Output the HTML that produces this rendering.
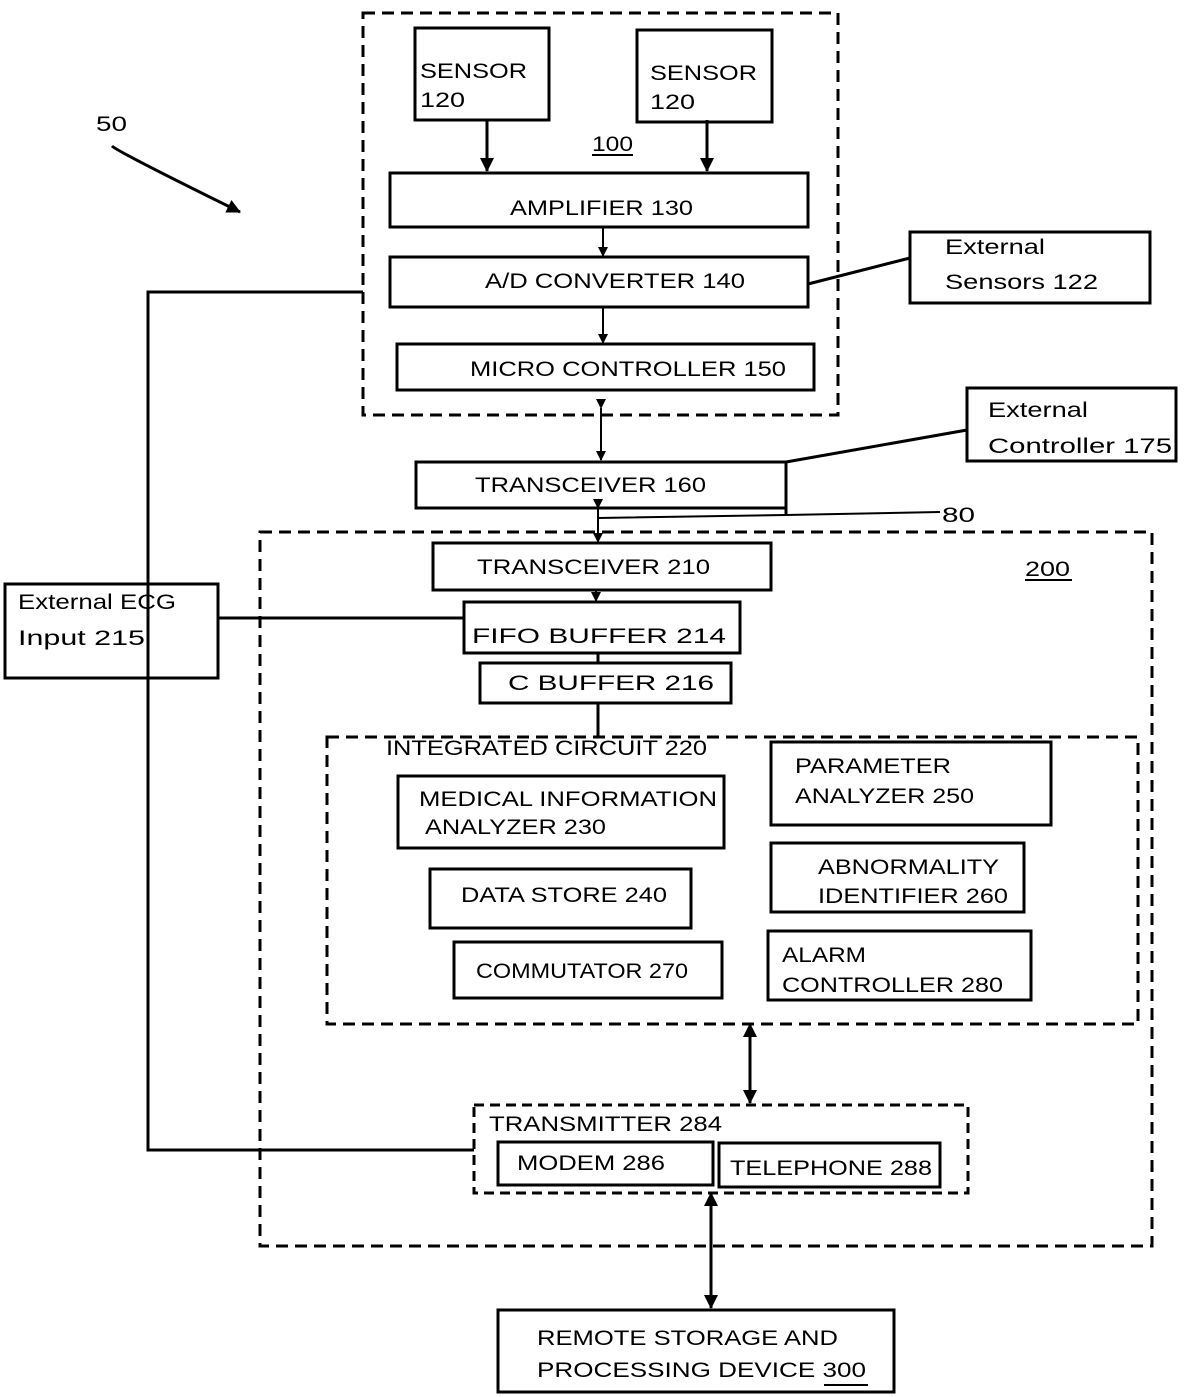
<!DOCTYPE html>
<html><head><style>
html,body{margin:0;padding:0;background:#fff;}
svg{display:block;}
text{font-family:"Liberation Sans",sans-serif;font-size:21px;fill:#000;}
</style></head><body>
<svg width="1189" height="1397" viewBox="0 0 1189 1397" xmlns="http://www.w3.org/2000/svg">
<defs>
<marker id="a" markerWidth="10" markerHeight="10" refX="9" refY="5" orient="auto" markerUnits="userSpaceOnUse"><path d="M0,0 L10,5 L0,10 z" fill="#000"/></marker>
<marker id="b" markerWidth="14" markerHeight="14" refX="13" refY="7" orient="auto-start-reverse" markerUnits="userSpaceOnUse"><path d="M0,0 L14,7 L0,14 z" fill="#000"/></marker>
</defs>
<g fill="none" stroke="#000" stroke-width="3">
<rect x="363" y="13" width="475" height="402" stroke-dasharray="12,7"/>
<rect x="260" y="532" width="892" height="714" stroke-dasharray="12,7"/>
<rect x="327" y="737" width="811" height="287" stroke-dasharray="12,7"/>
<rect x="474" y="1105" width="494" height="88" stroke-dasharray="10,6"/>
<rect x="415" y="28" width="134" height="92"/>
<rect x="637" y="30" width="135" height="92"/>
<rect x="390" y="173" width="418" height="54"/>
<rect x="390" y="257" width="418" height="50"/>
<rect x="397" y="344" width="417" height="46"/>
<rect x="910" y="232" width="240" height="71"/>
<rect x="967" y="388" width="209" height="73"/>
<rect x="416" y="462" width="370" height="46"/>
<rect x="433" y="543" width="338" height="47"/>
<rect x="464" y="602" width="276" height="51"/>
<rect x="480" y="663" width="251" height="40"/>
<rect x="5" y="584" width="213" height="94"/>
<rect x="398" y="776" width="326" height="72"/>
<rect x="771" y="742" width="280" height="83"/>
<rect x="430" y="869" width="261" height="59"/>
<rect x="771" y="843" width="253" height="69"/>
<rect x="454" y="942" width="268" height="56"/>
<rect x="768" y="931" width="263" height="69"/>
<rect x="498" y="1142" width="215" height="43"/>
<rect x="719" y="1143" width="221" height="44"/>
<rect x="498" y="1310" width="396" height="82"/>
<line x1="487" y1="120" x2="487" y2="171" marker-end="url(#b)"/>
<line x1="707" y1="120" x2="707" y2="171" marker-end="url(#b)"/>
<line x1="603" y1="227" x2="603" y2="256" stroke-width="2" marker-end="url(#a)"/>
<line x1="603" y1="307" x2="603" y2="343" stroke-width="2" marker-end="url(#a)"/>
<line x1="808" y1="284" x2="910" y2="258"/>
<line x1="601" y1="408" x2="601" y2="460" stroke-width="2" marker-start="url(#a)" marker-end="url(#a)"/>
<line x1="786" y1="462" x2="967" y2="430"/>
<line x1="786" y1="462" x2="786" y2="515"/>
<polyline points="598,518 786,515 940,512" stroke-width="2"/>
<line x1="598" y1="508" x2="598" y2="542" stroke-width="2" marker-start="url(#a)" marker-end="url(#a)"/>
<line x1="596" y1="590" x2="596" y2="601" stroke-width="2" marker-end="url(#a)"/>
<line x1="598" y1="653" x2="598" y2="663"/>
<line x1="598" y1="703" x2="598" y2="737"/>
<line x1="218" y1="618" x2="464" y2="618"/>
<polyline points="363,292 148,292 148,1150 474,1150"/>
<line x1="750" y1="1024" x2="750" y2="1103" marker-start="url(#b)" marker-end="url(#b)"/>
<line x1="711" y1="1193" x2="711" y2="1308" marker-start="url(#b)" marker-end="url(#b)"/>
<path d="M112,146 Q118,152 240,212" marker-end="url(#b)"/>
<line x1="592" y1="155" x2="633" y2="155" stroke-width="2"/>
<line x1="1025" y1="580" x2="1072" y2="580" stroke-width="2"/>
<line x1="824" y1="1385" x2="868" y2="1385" stroke-width="2"/>
</g>
<g lengthAdjust="spacingAndGlyphs">
<text x="96" y="131" textLength="31" lengthAdjust="spacingAndGlyphs">50</text>
<text x="420" y="78" textLength="107" lengthAdjust="spacingAndGlyphs">SENSOR</text><text x="420" y="107" textLength="45" lengthAdjust="spacingAndGlyphs">120</text>
<text x="650" y="80" textLength="107" lengthAdjust="spacingAndGlyphs">SENSOR</text><text x="650" y="109" textLength="45" lengthAdjust="spacingAndGlyphs">120</text>
<text x="592" y="151" textLength="41" lengthAdjust="spacingAndGlyphs">100</text>
<text x="510" y="215" textLength="183" lengthAdjust="spacingAndGlyphs">AMPLIFIER 130</text>
<text x="485" y="288" textLength="260" lengthAdjust="spacingAndGlyphs">A/D CONVERTER 140</text>
<text x="470" y="376" textLength="316" lengthAdjust="spacingAndGlyphs">MICRO CONTROLLER 150</text>
<text x="945" y="254" font-size="23" textLength="100" lengthAdjust="spacingAndGlyphs">External</text><text x="945" y="289" font-size="23" textLength="153" lengthAdjust="spacingAndGlyphs">Sensors 122</text>
<text x="988" y="417" font-size="23" textLength="100" lengthAdjust="spacingAndGlyphs">External</text><text x="988" y="453" font-size="23" textLength="184" lengthAdjust="spacingAndGlyphs">Controller 175</text>
<text x="475" y="492" textLength="231" lengthAdjust="spacingAndGlyphs">TRANSCEIVER 160</text>
<text x="942" y="522" textLength="33" lengthAdjust="spacingAndGlyphs">80</text>
<text x="477" y="574" textLength="233" lengthAdjust="spacingAndGlyphs">TRANSCEIVER 210</text>
<text x="1025" y="576" textLength="45" lengthAdjust="spacingAndGlyphs">200</text>
<text x="18" y="609" font-size="23" textLength="158" lengthAdjust="spacingAndGlyphs">External ECG</text><text x="18" y="645" font-size="23" textLength="127" lengthAdjust="spacingAndGlyphs">Input 215</text>
<text x="472" y="643" font-size="24" textLength="254" lengthAdjust="spacingAndGlyphs">FIFO BUFFER 214</text>
<text x="508" y="690" font-size="24" textLength="206" lengthAdjust="spacingAndGlyphs">C BUFFER 216</text>
<text x="386" y="755" textLength="321" lengthAdjust="spacingAndGlyphs">INTEGRATED CIRCUIT 220</text>
<text x="419" y="806" textLength="298" lengthAdjust="spacingAndGlyphs">MEDICAL INFORMATION</text><text x="425" y="834" textLength="181" lengthAdjust="spacingAndGlyphs">ANALYZER 230</text>
<text x="795" y="773" textLength="156" lengthAdjust="spacingAndGlyphs">PARAMETER</text><text x="795" y="803" textLength="179" lengthAdjust="spacingAndGlyphs">ANALYZER 250</text>
<text x="461" y="902" textLength="206" lengthAdjust="spacingAndGlyphs">DATA STORE 240</text>
<text x="818" y="874" textLength="181" lengthAdjust="spacingAndGlyphs">ABNORMALITY</text><text x="818" y="903" textLength="190" lengthAdjust="spacingAndGlyphs">IDENTIFIER 260</text>
<text x="476" y="978" textLength="212" lengthAdjust="spacingAndGlyphs">COMMUTATOR 270</text>
<text x="782" y="962" textLength="84" lengthAdjust="spacingAndGlyphs">ALARM</text><text x="782" y="992" textLength="221" lengthAdjust="spacingAndGlyphs">CONTROLLER 280</text>
<text x="489" y="1131" textLength="233" lengthAdjust="spacingAndGlyphs">TRANSMITTER 284</text>
<text x="517" y="1170" textLength="148" lengthAdjust="spacingAndGlyphs">MODEM 286</text>
<text x="730" y="1175" textLength="202" lengthAdjust="spacingAndGlyphs">TELEPHONE 288</text>
<text x="537" y="1345" font-size="22" textLength="301" lengthAdjust="spacingAndGlyphs">REMOTE STORAGE AND</text>
<text x="537" y="1377" font-size="22" textLength="329" lengthAdjust="spacingAndGlyphs">PROCESSING  DEVICE 300</text>
</g>
</svg>
</body></html>
